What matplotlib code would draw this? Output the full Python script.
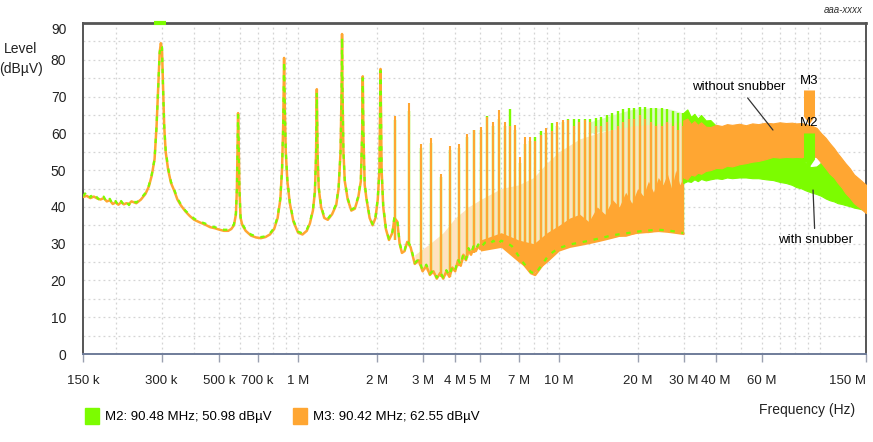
import matplotlib.pyplot as plt
from matplotlib.path import Path
from matplotlib.patches import Patch
from matplotlib.ticker import FixedLocator, NullFormatter

plt.rcParams['font.family'] = ['Liberation Sans Narrow', 'Liberation Sans', 'DejaVu Sans']

GREEN = '#7CFC00'
ORANGE = '#FFA632'
LIGHT_ORANGE = '#FFE2BF'
LIGHT_GREEN = '#DDF8C4'

# noise floor + resonant peaks below ~5 MHz (MHz, dBuV) - both traces nearly identical
low_freq = [0.150, 0.155, 0.160, 0.165, 0.170, 0.175, 0.180, 0.185, 0.190, 0.195, 0.200, 0.205,
            0.210, 0.215, 0.220, 0.225, 0.230, 0.240, 0.250, 0.260, 0.268, 0.275, 0.282, 0.287,
            0.291, 0.295, 0.298, 0.301, 0.304, 0.307, 0.311, 0.318, 0.326, 0.335, 0.345, 0.355,
            0.370, 0.385, 0.400, 0.420, 0.440, 0.460, 0.480, 0.500, 0.520, 0.540, 0.555, 0.568,
            0.578, 0.583, 0.587, 0.589, 0.592, 0.596, 0.602, 0.612, 0.630, 0.660, 0.690, 0.720,
            0.750, 0.780, 0.810, 0.835, 0.855, 0.868, 0.877, 0.884, 0.890, 0.897, 0.910, 0.930,
            0.960, 1.000, 1.040, 1.080, 1.110, 1.140, 1.160, 1.172, 1.180, 1.188, 1.200, 1.225,
            1.260, 1.300, 1.350, 1.400, 1.430, 1.455, 1.468, 1.474, 1.480, 1.492, 1.510, 1.550,
            1.600, 1.650, 1.700, 1.740, 1.760, 1.770, 1.780, 1.800, 1.830, 1.880, 1.930, 1.980,
            2.020, 2.050, 2.070, 2.090, 2.120, 2.170, 2.230, 2.300, 2.340, 2.400, 2.450, 2.500,
            2.560, 2.620, 2.700, 2.800, 2.900, 3.000, 3.100, 3.200, 3.300, 3.400, 3.500, 3.600,
            3.700, 3.800, 3.900, 4.000, 4.100, 4.200, 4.300, 4.400, 4.500, 4.600, 4.700, 4.800,
            4.900, 5.000, 5.200, 5.400, 5.600, 5.800, 6.000, 6.300, 6.600, 6.900, 7.200, 7.500,
            7.800, 8.100, 8.400, 8.700, 9.000, 9.500, 10.0, 11.0, 12.0, 13.0, 14.0, 15.0,
            16.0, 18.0, 20.0, 22.0, 24.0, 26.0, 28.0, 29.9]
low_orange = [42.7, 43.0, 42.4, 42.8, 42.3, 42.0, 42.4, 41.5, 41.8, 40.8, 41.2, 40.6,
              41.3, 40.7, 41.0, 40.8, 41.5, 41.0, 42.0, 43.5, 45.5, 48.5, 53.0, 62.0,
              72.0, 82.0, 84.5, 83.0, 72.0, 62.0, 55.0, 50.0, 46.5, 44.5, 42.0, 40.5,
              38.8, 37.5, 36.5, 35.8, 35.2, 34.5, 34.2, 33.8, 33.5, 33.5, 34.0, 35.0,
              38.0, 45.0, 58.0, 65.5, 58.0, 45.0, 37.0, 35.0, 33.5, 32.2, 31.7, 31.5,
              31.8, 32.5, 34.0, 37.0, 42.0, 50.0, 62.0, 80.5, 66.0, 55.0, 47.0, 41.0,
              36.0, 33.0, 32.5, 33.5, 35.5, 39.0, 44.0, 54.0, 72.0, 54.0, 45.0, 40.0,
              37.0, 36.5, 38.0, 40.5, 45.0, 55.0, 72.0, 87.0, 72.0, 55.0, 47.0, 42.0,
              39.0, 39.5, 42.5, 47.0, 60.0, 75.5, 60.0, 46.0, 42.0, 37.0, 35.0, 37.0,
              42.0, 50.0, 77.5, 50.0, 40.0, 34.0, 31.0, 33.0, 37.0, 36.0, 30.0, 27.5,
              28.0, 30.5, 29.0, 24.5, 25.5, 22.5, 24.0, 21.5, 22.5, 20.5, 22.0, 20.5,
              22.5, 21.0, 23.5, 22.5, 25.5, 24.0, 27.0, 25.5, 28.5, 27.0, 29.0, 28.0,
              29.5, 28.5, 30.0, 29.5, 30.5, 29.5, 30.5, 30.0, 29.0, 27.0, 25.0, 23.5,
              22.0, 21.5, 23.0, 24.5, 26.0, 27.5, 28.5, 29.5, 30.0, 30.5, 31.0, 31.5,
              32.0, 32.5, 33.0, 33.3, 33.5, 33.3, 33.0, 32.7]
low_green = [42.9, 44.2, 42.6, 43.7, 42.5, 41.6, 42.8, 41.2, 42.2, 40.6, 41.6, 40.3,
             41.6, 40.5, 41.3, 40.5, 41.8, 41.2, 42.3, 43.8, 45.8, 48.8, 53.0, 62.0,
             72.0, 82.0, 84.0, 83.5, 72.0, 62.0, 55.5, 50.5, 46.8, 44.8, 42.3, 40.8,
             39.0, 37.8, 36.8, 36.0, 35.5, 34.8, 34.5, 34.0, 33.8, 33.8, 34.3, 35.3,
             38.3, 45.0, 58.0, 65.0, 58.0, 45.0, 37.3, 35.3, 33.8, 32.5, 32.0, 31.8,
             32.0, 32.8, 34.3, 37.3, 42.3, 50.0, 62.0, 79.5, 66.0, 55.3, 47.3, 41.3,
             36.3, 33.3, 32.8, 33.8, 35.8, 39.3, 44.3, 54.0, 71.0, 54.0, 45.3, 40.3,
             37.3, 36.8, 38.3, 40.8, 45.3, 55.0, 72.0, 86.0, 72.0, 55.0, 47.3, 42.3,
             39.3, 39.8, 42.8, 47.3, 60.0, 75.0, 60.0, 46.3, 42.3, 37.3, 35.3, 37.3,
             42.3, 50.0, 77.0, 50.0, 40.3, 34.3, 31.3, 33.3, 37.3, 36.3, 30.3, 27.8,
             28.3, 30.8, 29.3, 24.8, 25.8, 22.8, 24.3, 21.8, 22.8, 20.8, 22.3, 20.8,
             22.8, 21.3, 23.8, 22.8, 25.8, 24.3, 27.3, 25.8, 28.8, 27.3, 29.3, 28.3,
             29.8, 28.8, 30.3, 29.8, 30.8, 29.8, 30.8, 30.3, 29.3, 27.3, 25.3, 23.8,
             22.3, 21.8, 23.3, 24.8, 26.3, 27.8, 28.8, 29.8, 30.3, 30.8, 31.3, 31.8,
             32.3, 32.8, 33.3, 33.6, 33.8, 33.6, 33.3, 32.9]

# harmonic spikes 2.3 .. 30 MHz
spike_freq = [2.36, 2.655, 2.95, 3.245, 3.54, 3.835, 4.13, 4.425, 4.72, 5.015, 5.31, 5.6,
              5.9, 6.195, 6.49, 6.785, 7.08, 7.375, 7.74, 8.09, 8.53, 8.91, 9.40, 9.82,
              10.35, 10.82, 11.41, 11.92, 12.57, 13.14, 13.85, 14.48, 15.27, 15.96, 16.82, 17.58,
              18.54, 19.38, 20.43, 21.35, 22.51, 23.52, 24.81, 25.92, 27.33, 28.56, 29.85]
spike_base = [31.0, 30.0, 24.0, 22.0, 21.0, 21.0, 24.0, 26.0, 27.5, 28.3, 29.0, 30.0,
              30.0, 30.0, 30.0, 28.0, 26.0, 24.7, 23.0, 22.5, 24.0, 26.0, 27.0, 28.0,
              29.0, 29.5, 30.0, 30.0, 30.5, 31.0, 31.0, 31.5, 31.5, 32.0, 32.3, 32.5,
              32.8, 33.0, 33.0, 33.2, 33.4, 33.5, 33.6, 33.5, 33.2, 33.0, 32.7]
spike_orange = [64.7, 68.2, 57.0, 58.7, 49.0, 56.5, 57.0, 59.8, 60.8, 61.7, 64.4, 63.0,
                66.3, 63.1, 62.0, 62.4, 53.6, 59.0, 59.0, 58.0, 59.5, 61.5, 60.5, 63.0,
                63.6, 63.6, 62.0, 63.0, 63.6, 63.0, 62.0, 62.0, 63.0, 61.0, 62.0, 63.0,
                64.0, 64.0, 65.0, 64.0, 63.0, 62.0, 62.0, 63.0, 62.0, 61.0, 62.0]
spike_green = [63.5, 66.0, 56.0, 57.5, 48.0, 55.5, 56.0, 59.0, 61.0, 61.0, 64.7, 62.0,
               64.0, 62.0, 66.6, 61.0, 52.0, 57.0, 58.0, 59.0, 60.7, 60.0, 62.7, 62.0,
               63.0, 64.0, 64.0, 64.0, 64.0, 64.0, 64.3, 64.5, 65.0, 65.5, 66.0, 66.5,
               67.0, 67.0, 67.2, 67.2, 67.0, 67.0, 66.8, 66.5, 66.0, 65.5, 65.5]

# unresolved haze between the dense spikes
haze_freq = [2.8, 3.2, 3.6, 4.0, 4.5, 5.0, 6.0, 7.0, 8.0, 9.0, 10.0, 12.0, 14.0, 17.0, 20.0, 24.0, 29.9]
haze_low = [25.0, 22.0, 21.0, 23.0, 27.0, 29.0, 30.0, 26.0, 22.5, 26.0, 28.5, 30.0, 31.0, 32.0, 33.0, 33.5, 32.7]
haze_high = [27.0, 30.0, 33.0, 37.0, 40.0, 42.0, 45.0, 46.0, 48.0, 52.0, 55.0, 58.5, 60.0, 61.5, 62.5, 63.0, 63.5]
ghaze_freq = [13.0, 16.0, 19.0, 23.0, 27.0, 29.9]
ghaze_low = [60.0, 61.0, 62.0, 62.5, 63.0, 63.0]
ghaze_high = [63.0, 65.0, 66.5, 67.0, 66.5, 65.5]
band_freq = [5.0, 6.0, 7.0, 8.0, 9.0, 10.0, 11.0, 12.0, 13.0, 14.0, 15.0, 16.0, 17.0,
             18.0, 19.0, 20.0, 21.0, 22.0, 23.0, 24.0, 25.0, 26.0, 27.0, 28.0, 29.0, 29.9]
band_low = [28.0, 29.0, 25.0, 22.0, 25.0, 28.0, 29.0, 29.5, 30.0, 30.5, 31.0, 31.5, 32.0,
            32.0, 32.5, 33.0, 33.0, 33.0, 33.3, 33.3, 33.5, 33.3, 33.2, 33.0, 33.0, 32.7]
band_high = [31.0, 33.0, 31.0, 30.0, 33.0, 35.0, 37.0, 38.0, 36.0, 40.0, 38.0, 42.0, 40.0,
             44.0, 41.0, 45.0, 43.0, 47.0, 44.0, 48.0, 46.0, 49.0, 45.0, 50.0, 46.0, 48.0]

# 30 .. 150 MHz broadband part
hf_freq = [29.9, 31.0, 32.0, 33.0, 34.0, 35.0, 36.5, 38.0, 40.0, 42.0, 44.0, 46.0, 49.0,
           52.0, 55.0, 58.0, 62.0, 66.0, 70.0, 74.0, 78.0, 81.0, 85.0, 88.0, 92.0, 97.0,
           101.0, 105.0, 109.0, 113.0, 117.0, 121.0, 125.0, 130.0, 135.0, 142.0, 150.0]
hf_orange_low = [48.0, 47.5, 48.8, 48.5, 49.3, 49.0, 49.8, 50.0, 50.6, 50.5, 51.2, 51.0, 51.6,
                 51.9, 52.3, 52.5, 53.0, 53.6, 53.4, 53.6, 53.5, 53.6, 53.5, 53.8, 54.0, 53.5,
                 52.0, 50.5, 49.0, 48.0, 46.5, 45.3, 43.8, 42.5, 41.0, 39.8, 38.3]
hf_orange_high = [63.5, 64.0, 62.5, 63.3, 62.3, 63.0, 61.8, 61.7, 62.3, 62.0, 62.5, 62.3, 62.6,
                  62.2, 62.7, 62.5, 62.9, 62.7, 63.0, 62.8, 62.9, 62.7, 62.8, 62.5, 62.2, 61.5,
                  60.0, 58.8, 57.3, 56.0, 54.5, 53.2, 51.9, 50.5, 48.8, 47.5, 46.0]
hf_green_low = [46.5, 47.0, 46.8, 47.5, 47.0, 47.6, 47.2, 47.5, 47.8, 47.6, 48.0, 47.8, 48.0,
                48.0, 47.8, 47.8, 47.5, 47.3, 46.8, 46.5, 46.0, 45.4, 45.0, 44.5, 44.0, 43.5,
                43.0, 42.3, 41.8, 41.5, 41.0, 40.8, 40.5, 40.2, 39.8, 39.5, 39.0]
hf_green_high = [65.5, 66.5, 64.5, 65.3, 64.0, 65.0, 63.5, 63.6, 62.0, 61.0, 60.5, 60.0, 59.0,
                 58.0, 58.0, 58.0, 58.0, 58.0, 57.5, 57.0, 56.5, 56.0, 55.0, 52.0, 50.8, 51.0,
                 52.0, 51.0, 49.0, 48.0, 46.5, 45.5, 44.0, 43.0, 41.8, 40.8, 40.0]

marker_names = ['M2', 'M3']
marker_freq = [90.48, 90.42]
marker_level = [50.98, 62.55]
marker_color = [GREEN, ORANGE]

x_ticks = [0.15, 0.3, 0.5, 0.7, 1, 2, 3, 4, 5, 7, 10, 20, 30, 40, 60, 150]
x_labels = ['150 k', '300 k', '500 k', '700 k', '1 M', '2 M', '3 M', '4 M', '5 M', '7 M',
            '10 M', '20 M', '30 M', '40 M', '60 M', '150 M']
x_grid = [0.2, 0.3, 0.4, 0.5, 0.6, 0.7, 0.8, 0.9, 1, 2, 3, 4, 5, 6, 7, 8, 9,
          10, 20, 30, 40, 50, 60, 70, 80, 90, 100]
y_ticks = [0, 10, 20, 30, 40, 50, 60, 70, 80, 90]

fig = plt.figure(figsize=(8.73, 4.42), dpi=100)
ax = fig.add_axes([0.0951, 0.199, 0.8969, 0.749])
ax.set_xscale('log')
ax.set_xlim(0.15, 150)
ax.set_ylim(0, 90)

# haze and band fills
ax.fill_between(haze_freq, haze_low, haze_high, color=LIGHT_ORANGE, lw=0, zorder=1)
ax.fill_between(ghaze_freq, ghaze_low, ghaze_high, color=LIGHT_GREEN, lw=0, zorder=1)

# spikes
ax.vlines(spike_freq, spike_base, spike_green, color=GREEN, lw=1.7, zorder=2)
ax.vlines(spike_freq, spike_base, spike_orange, color=ORANGE, lw=1.5, zorder=3)
ax.fill_between(band_freq, band_low, band_high, color=ORANGE, lw=0, zorder=3)

# floor lines
ax.plot(low_freq, low_orange, color=ORANGE, lw=1.8, zorder=4)
ax.plot(low_freq, low_green, color=GREEN, lw=1.6, ls=(0, (2, 3)), zorder=5)

# broadband part above 30 MHz
ax.fill_between(hf_freq, hf_green_low, hf_green_high, color=GREEN, lw=0.8, edgecolor=GREEN, zorder=3)
ax.fill_between(hf_freq, hf_orange_low, hf_orange_high, color=ORANGE, lw=0.8, edgecolor=ORANGE, zorder=4)

# marker flags
flag = Path([(0, 0), (-5.5, 8), (-5.5, 34), (5.5, 34), (5.5, 8), (0, 0)],
            [Path.MOVETO, Path.LINETO, Path.LINETO, Path.LINETO, Path.LINETO, Path.CLOSEPOLY])
for name, f, lv, c in zip(marker_names, marker_freq, marker_level, marker_color):
    ax.plot([f], [lv], marker=flag, markersize=49, color=c, mew=0, ls='none', zorder=6)
    ax.annotate(name, xy=(f, lv), xytext=(0, 31), textcoords='offset points',
                ha='center', va='center', fontsize=9.5, zorder=7)
ax.plot([spike_freq[0] / 8], [90], marker='_', color=GREEN, markersize=9, mew=3,
        clip_on=False, zorder=7)

ax.annotate('without snubber', xy=(66, 60.9), xytext=(48.9, 72.6), ha='center', va='center',
            fontsize=9.5, arrowprops=dict(arrowstyle='-', color='#333333', lw=0.9,
                                          shrinkA=2, shrinkB=0), zorder=8)
ax.annotate('with snubber', xy=(94, 44.6), xytext=(95.7, 31), ha='center', va='center',
            fontsize=9.5, arrowprops=dict(arrowstyle='-', color='#333333', lw=0.9,
                                          shrinkA=2, shrinkB=0), zorder=8)

# axes styling
ax.xaxis.set_major_locator(FixedLocator(x_ticks))
ax.set_xticklabels(x_labels)
ax.xaxis.set_minor_locator(FixedLocator(x_grid))
ax.xaxis.set_minor_formatter(NullFormatter())
ax.yaxis.set_major_locator(FixedLocator(y_ticks))
ax.set_yticklabels([str(v) for v in y_ticks])
ax.grid(False)
for g in x_grid:
    ax.axvline(g, color='#D4D4D4', lw=0.9, ls=(0, (1.5, 2.5)), zorder=0)
for v in range(5, 90, 5):
    ax.axhline(v, color='#D4D4D4', lw=0.9, ls=(0, (1.5, 2.5)), zorder=0)
ax.tick_params(axis='x', which='major', length=6, width=1, color='#9AA0B0',
               pad=9, labelsize=9.5, labelcolor='#222222')
ax.tick_params(axis='x', which='minor', length=0)
ax.tick_params(axis='y', which='both', length=0, pad=12, labelsize=10, labelcolor='#222222')
ax.get_xticklabels()[-1].set_ha('right')
ax.get_yticklabels()[-1].set_va('top')
for side in ['top', 'left', 'right']:
    ax.spines[side].set_color('#555555')
    ax.spines[side].set_linewidth(1.4)
ax.spines['top'].set_linewidth(2)
ax.spines['bottom'].set_color('#6F7C99')
ax.spines['bottom'].set_linewidth(1.4)

fig.text(0.024, 0.866, 'Level\n(dBµV)', ha='center', va='center', fontsize=10,
         linespacing=1.5, color='#222222')
fig.text(0.925, 0.072, 'Frequency (Hz)', ha='center', va='center', fontsize=10, color='#222222')
fig.text(0.988, 0.977, 'aaa-xxxx', ha='right', va='center', fontsize=7, style='italic',
         color='#333333')

handles = [Patch(color=c) for c in marker_color]
labels = [f'{n}: {f:.2f} MHz; {lv:.2f} dBµV' for n, f, lv in zip(marker_names, marker_freq, marker_level)]
fig.legend(handles, labels, ncol=2, loc='center left', bbox_to_anchor=(0.097, 0.059),
           frameon=False, fontsize=9.5, handlelength=1.1, handleheight=1.5,
           handletextpad=0.45, columnspacing=1.6, borderpad=0, borderaxespad=0)

fig.savefig('out.png', dpi=100)
